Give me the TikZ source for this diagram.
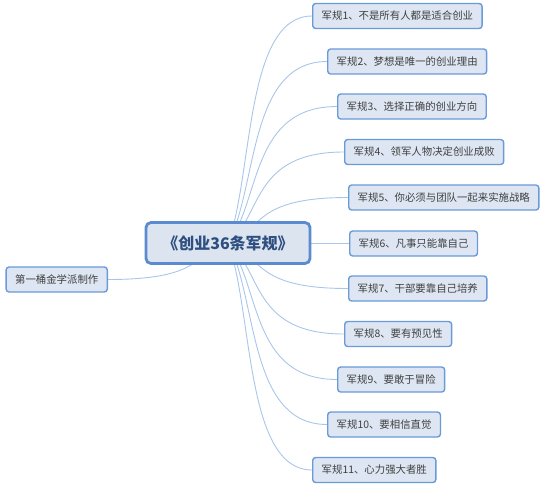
\documentclass[tikz,border=0pt]{standalone}
\usepackage{fontspec}
\setmainfont{Noto Sans CJK SC}
\usetikzlibrary{calc,backgrounds}
\definecolor{kidfill}{HTML}{DDE6F2}
\definecolor{kidline}{HTML}{6A9AD8}
\definecolor{kidtext}{HTML}{404040}
\definecolor{rootfill}{HTML}{DCE4F0}
\definecolor{rootline}{HTML}{5A8AD0}
\definecolor{roottext}{HTML}{2E4F80}
\definecolor{linkcol}{HTML}{A9C6EA}
\tikzset{
  kid/.style={draw=kidline, fill=kidfill, line width=1.4pt, rounded corners=3pt,
    minimum height=25pt, inner xsep=9pt, inner ysep=0pt, text=kidtext,
    font=\fontsize{10.4pt}{12pt}\selectfont},
  root/.style={draw=rootline, fill=rootfill, line width=2.8pt, rounded corners=5pt,
    minimum height=41pt, minimum width=164pt, inner xsep=3pt, text=roottext,
    font=\fontsize{16pt}{19pt}\selectfont\bfseries},
  link/.style={draw=linkcol, line width=0.9pt}
}
\begin{document}
\begin{tikzpicture}[x=1pt,y=-1pt]
\useasboundingbox (0,0) rectangle (553,488);
\node[root] (c) at (228,243) {《创业36条军规》};
\node[kid, anchor=east] (l) at (108,279.5) {第一桶金学派制作};
\node[kid, anchor=west] (n1) at (312,16) {军规1、不是所有人都是适合创业};
\node[kid, anchor=west] (n2) at (327,61.5) {军规2、梦想是唯一的创业理由};
\node[kid, anchor=west] (n3) at (337,106.5) {军规3、选择正确的创业方向};
\node[kid, anchor=west] (n4) at (344,152) {军规4、领军人物决定创业成败};
\node[kid, anchor=west] (n5) at (348,197.5) {军规5、你必须与团队一起来实施战略};
\node[kid, anchor=west] (n6) at (349,243.5) {军规6、凡事只能靠自己};
\node[kid, anchor=west] (n7) at (348,288.5) {军规7、干部要靠自己培养};
\node[kid, anchor=west] (n8) at (344,334) {军规8、要有预见性};
\node[kid, anchor=west] (n9) at (337,379.5) {军规9、要敢于冒险};
\node[kid, anchor=west] (n10) at (327,424.5) {军规10、要相信直觉};
\node[kid, anchor=west] (n11) at (312,470) {军规11、心力强大者胜};
\begin{scope}[on background layer]
\foreach \i in {1,...,11}{
  \coordinate (t\i) at ($(c.center)!0.2!(n\i.west)$);
  \draw[link] (c.center) .. controls ($(c.center)!0.3!(n\i.west)$) and (t\i |- n\i.west) .. (n\i.west);
}
\coordinate (tl) at ($(c.center)!0.2!(l.east)$);
\draw[link] (c.center) .. controls ($(c.center)!0.3!(l.east)$) and (tl |- l.east) .. (l.east);
\end{scope}
\end{tikzpicture}
\end{document}
